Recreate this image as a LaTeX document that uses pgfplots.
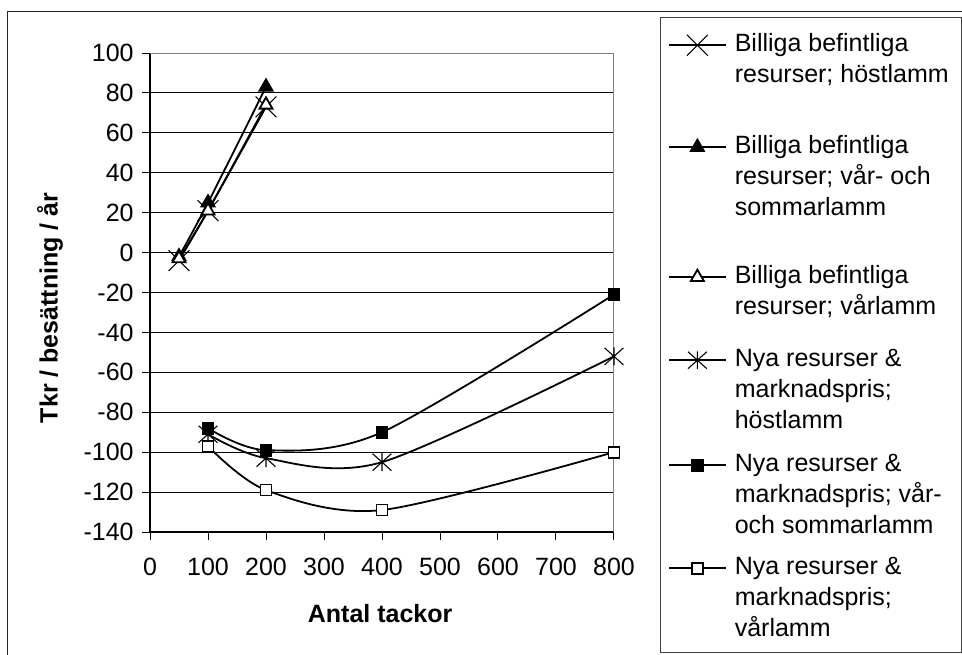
\documentclass[border=0pt]{standalone}
\usepackage{pgfplots}
\pgfplotsset{compat=1.18}
\usepackage{fontspec}
\setmainfont{Liberation Sans}
\pgfdeclareplotmark{bigx}{%
  \pgfpathmoveto{\pgfqpoint{-\pgfplotmarksize}{-\pgfplotmarksize}}%
  \pgfpathlineto{\pgfqpoint{\pgfplotmarksize}{\pgfplotmarksize}}%
  \pgfpathmoveto{\pgfqpoint{-\pgfplotmarksize}{\pgfplotmarksize}}%
  \pgfpathlineto{\pgfqpoint{\pgfplotmarksize}{-\pgfplotmarksize}}%
  \pgfusepathqstroke}
\pgfdeclareplotmark{xstar}{%
  \pgfpathmoveto{\pgfqpoint{-\pgfplotmarksize}{-0.9\pgfplotmarksize}}%
  \pgfpathlineto{\pgfqpoint{\pgfplotmarksize}{0.9\pgfplotmarksize}}%
  \pgfpathmoveto{\pgfqpoint{-\pgfplotmarksize}{0.9\pgfplotmarksize}}%
  \pgfpathlineto{\pgfqpoint{\pgfplotmarksize}{-0.9\pgfplotmarksize}}%
  \pgfpathmoveto{\pgfqpoint{0pt}{-0.95\pgfplotmarksize}}%
  \pgfpathlineto{\pgfqpoint{0pt}{0.95\pgfplotmarksize}}%
  \pgfusepathqstroke}
\newcommand{\fs}{\fontsize{12.5}{15.5}\selectfont}
\newcommand{\lentry}[3]{\parbox[t]{150pt}{\strut #1\\#2\rule[-#3]{0pt}{0pt}}}
\newcommand{\lentryiii}[4]{\parbox[t]{150pt}{\strut #1\\#2\\#3\rule[-#4]{0pt}{0pt}}}
\begin{document}
\begin{tikzpicture}
\useasboundingbox (0,0) rectangle (481pt,327pt);
\draw[line width=0.5pt, black!85] (3.5pt,-5pt) rectangle (490pt,321pt);
\draw[line width=0.5pt, black!75] (330pt,0.75pt) rectangle (480.5pt,318pt);
\begin{axis}[
  at={(75pt,61pt)}, anchor=south west,
  scale only axis, width=232pt, height=239.5pt,
  xmin=0, xmax=800, ymin=-140, ymax=100,
  xtick={0,100,...,800}, ytick={-140,-120,...,100},
  axis x line*=bottom, axis y line*=left,
  axis line style={-, black, line width=0.6pt},
  tick align=outside, major tick length=4pt,
  tick style={black, line width=0.5pt},
  ymajorgrids, grid style={black, line width=0.5pt},
  /pgf/number format/assume math mode=true,
  tick label style={font=\fs},
  xticklabel style={inner sep=0pt, yshift=-9pt},
  yticklabel style={inner sep=0pt, xshift=-4pt},
  xlabel={Antal tackor}, ylabel={Tkr / besättning / år},
  label style={font=\fs\bfseries},
  xlabel style={at={(axis description cs:0.496,-0.171)}, anchor=center},
  ylabel style={at={(axis description cs:-0.2155,0.468)}, anchor=center},
  every axis plot/.append style={black, line width=0.9pt, smooth},
  mark options={solid, line width=0.55pt},
  legend image code/.code={%
    \draw[mark repeat=2,mark phase=2,#1] plot coordinates {(0pt,3.25pt) (14.25pt,3.25pt) (28.5pt,3.25pt)};},
  legend style={at={(axis description cs:1.1164,1.048)}, anchor=north west,
    draw=none, fill=none, inner sep=0pt, outer sep=0pt,
    row sep=0pt, column sep=4pt, font=\fs,
    nodes={inner sep=0pt, outer sep=0pt, text depth=, text height=},
    cells={anchor=base west}},
]
\addplot[mark=bigx, mark size=5.2pt] coordinates {(50,-4) (100,21) (200,73)};
\addlegendentry{\lentry{Billiga befintliga}{resurser; höstlamm}{24.65pt}}
\addplot[mark=triangle*, mark size=3.75pt, mark options={fill=black}] coordinates {(50,-2) (100,25) (200,83)};
\addlegendentry{\lentryiii{Billiga befintliga}{resurser; vår- och}{sommarlamm}{23.15pt}}
\addplot[mark=triangle*, mark size=3.75pt, mark options={fill=white}] coordinates {(50,-3) (100,21) (200,74)};
\addlegendentry{\lentry{Billiga befintliga}{resurser; vårlamm}{15.15pt}}
\addplot[mark=xstar, mark size=4.7pt] coordinates {(100,-91) (200,-103) (400,-105) (800,-52)};
\addlegendentry{\lentryiii{Nya resurser \&}{marknadspris;}{höstlamm}{10.65pt}}
\addplot[mark=square*, mark size=2.75pt, mark options={fill=black}] coordinates {(100,-88) (200,-99) (400,-90) (800,-21)};
\addlegendentry{\lentryiii{Nya resurser \&}{marknadspris; vår-}{och sommarlamm}{9.65pt}}
\addplot[mark=square*, mark size=2.75pt, mark options={fill=white}] coordinates {(100,-97) (200,-119) (400,-129) (800,-100)};
\addlegendentry{\lentryiii{Nya resurser \&}{marknadspris;}{vårlamm}{4.65pt}}
\draw[gray, line width=0.7pt] (rel axis cs:0,1) -- (rel axis cs:1,1) -- (rel axis cs:1,0);
\end{axis}
\end{tikzpicture}
\end{document}
